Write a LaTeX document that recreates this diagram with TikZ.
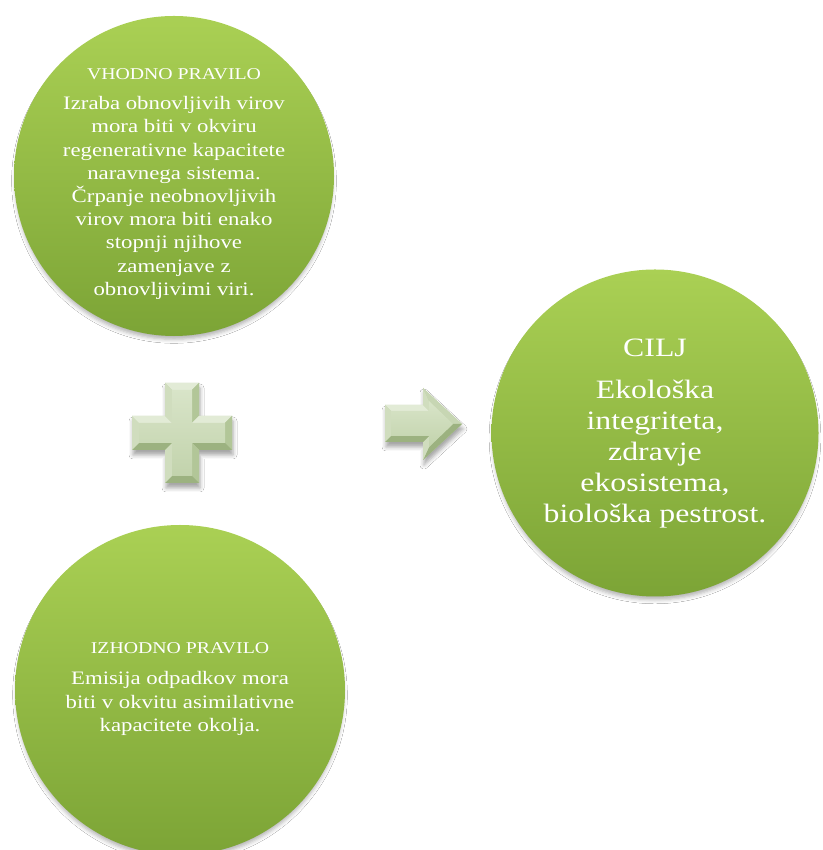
\documentclass[tikz,border=0pt]{standalone}
\usepackage{fontspec}
\setmainfont[FakeStretch=1.2]{Liberation Serif}
\usetikzlibrary{shadows.blur}
\definecolor{gtop}{RGB}{170,208,84}
\definecolor{gmid}{RGB}{152,194,70}
\definecolor{gbot}{RGB}{124,164,54}
\definecolor{fup}{RGB}{226,235,214}
\definecolor{fleft}{RGB}{208,221,190}
\definecolor{fright}{RGB}{178,198,152}
\definecolor{fdown}{RGB}{156,178,128}
\definecolor{ftop}{RGB}{216,228,200}
\definecolor{fbot}{RGB}{194,211,172}
\tikzset{
  bubble/.style={circle, draw=none, inner sep=0pt, minimum size=#1,
    top color=gtop, middle color=gmid, bottom color=gbot,
    blur shadow={shadow xshift=0pt, shadow yshift=-5pt, shadow scale=0.99, shadow blur radius=4pt, shadow opacity=30}},
  txt/.style={text=white, align=center, inner sep=0pt},
  bodysmall/.style={font=\fontsize{19}{23.2}\selectfont},
  bodylarge/.style={font=\fontsize{26.5}{31}\selectfont},
  symshadow/.style={fill=fbot, blur shadow={shadow xshift=1pt, shadow yshift=-5pt, shadow blur radius=4pt, shadow opacity=35}},
  faceup/.style={fill=fup},
  faceleft/.style={fill=fleft},
  faceright/.style={fill=fright},
  facedown/.style={fill=fdown},
  facemid/.style={top color=ftop, bottom color=fbot},
}
\begin{document}
\begin{tikzpicture}[x=1pt,y=1pt]
\useasboundingbox (0,0) rectangle (822,850);
\fill[white] (0,0) rectangle (822,850);

% circles
\node[bubble=320pt] (c1) at (174,674) {};
\node[bubble=330pt] (c2) at (180,160) {};
\node[bubble=327pt] (c3) at (655,417) {};

\node[txt, bodysmall] (t1) at (174,666) {{\fontsize{16.5}{20}\selectfont VHODNO PRAVILO}\\[7pt]
Izraba obnovljivih virov\\ mora biti v okviru\\ regenerativne kapacitete\\ naravnega sistema.\\ Črpanje neobnovljivih\\ virov mora biti enako\\ stopnji njihove\\ zamenjave z\\ obnovljivimi viri.};

\node[txt, bodysmall] (t2) at (180,161) {{\fontsize{16.5}{20}\selectfont IZHODNO PRAVILO}\\[8pt]
Emisija odpadkov mora\\ biti v okvitu asimilativne\\ kapacitete okolja.};

\node[txt, bodylarge] (t3) at (655,416) {CILJ\\[11pt]
Ekološka\\ integriteta,\\ zdravje\\ ekosistema,\\ biološka pestrost.};

% plus sign
\begin{scope}[shift={(182,417)}]
\coordinate (O1) at (-17,50); \coordinate (O2) at (17,50); \coordinate (O3) at (17,17);
\coordinate (O4) at (50,17); \coordinate (O5) at (50,-17); \coordinate (O6) at (17,-17);
\coordinate (O7) at (17,-50); \coordinate (O8) at (-17,-50); \coordinate (O9) at (-17,-17);
\coordinate (O10) at (-50,-17); \coordinate (O11) at (-50,17); \coordinate (O12) at (-17,17);
\coordinate (I1) at (-10,43); \coordinate (I2) at (10,43); \coordinate (I3) at (10,10);
\coordinate (I4) at (43,10); \coordinate (I5) at (43,-10); \coordinate (I6) at (10,-10);
\coordinate (I7) at (10,-43); \coordinate (I8) at (-10,-43); \coordinate (I9) at (-10,-10);
\coordinate (I10) at (-43,-10); \coordinate (I11) at (-43,10); \coordinate (I12) at (-10,10);
\path[symshadow] (O1)--(O2)--(O3)--(O4)--(O5)--(O6)--(O7)--(O8)--(O9)--(O10)--(O11)--(O12)--cycle;
\path[faceup] (O1)--(O2)--(I2)--(I1)--cycle;
\path[faceright] (O2)--(O3)--(I3)--(I2)--cycle;
\path[faceup] (O3)--(O4)--(I4)--(I3)--cycle;
\path[faceright] (O4)--(O5)--(I5)--(I4)--cycle;
\path[facedown] (O5)--(O6)--(I6)--(I5)--cycle;
\path[faceright] (O6)--(O7)--(I7)--(I6)--cycle;
\path[facedown] (O7)--(O8)--(I8)--(I7)--cycle;
\path[faceleft] (O8)--(O9)--(I9)--(I8)--cycle;
\path[facedown] (O9)--(O10)--(I10)--(I9)--cycle;
\path[faceleft] (O10)--(O11)--(I11)--(I10)--cycle;
\path[faceup] (O11)--(O12)--(I12)--(I11)--cycle;
\path[faceleft] (O12)--(O1)--(I1)--(I12)--cycle;
\path[facemid] (I1)--(I2)--(I3)--(I4)--(I5)--(I6)--(I7)--(I8)--(I9)--(I10)--(I11)--(I12)--cycle;
\end{scope}

% arrow
\coordinate (A1) at (385,445); \coordinate (A2) at (423,445); \coordinate (A3) at (423,462);
\coordinate (A4) at (462,426); \coordinate (A5) at (423,390); \coordinate (A6) at (423,408);
\coordinate (A7) at (385,408);
\coordinate (B1) at (391,439); \coordinate (B2) at (429,439); \coordinate (B3) at (429,449);
\coordinate (B4) at (453,426); \coordinate (B5) at (429,403); \coordinate (B6) at (429,414);
\coordinate (B7) at (391,414);
\path[symshadow] (A1)--(A2)--(A3)--(A4)--(A5)--(A6)--(A7)--cycle;
\path[faceup] (A1)--(A2)--(B2)--(B1)--cycle;
\path[faceleft] (A2)--(A3)--(B3)--(B2)--cycle;
\path[fill=fleft!70!fright] (A3)--(A4)--(B4)--(B3)--cycle;
\path[facedown] (A4)--(A5)--(B5)--(B4)--cycle;
\path[faceleft] (A5)--(A6)--(B6)--(B5)--cycle;
\path[facedown] (A6)--(A7)--(B7)--(B6)--cycle;
\path[faceleft] (A7)--(A1)--(B1)--(B7)--cycle;
\path[facemid] (B1)--(B2)--(B3)--(B4)--(B5)--(B6)--(B7)--cycle;
\end{tikzpicture}
\end{document}
